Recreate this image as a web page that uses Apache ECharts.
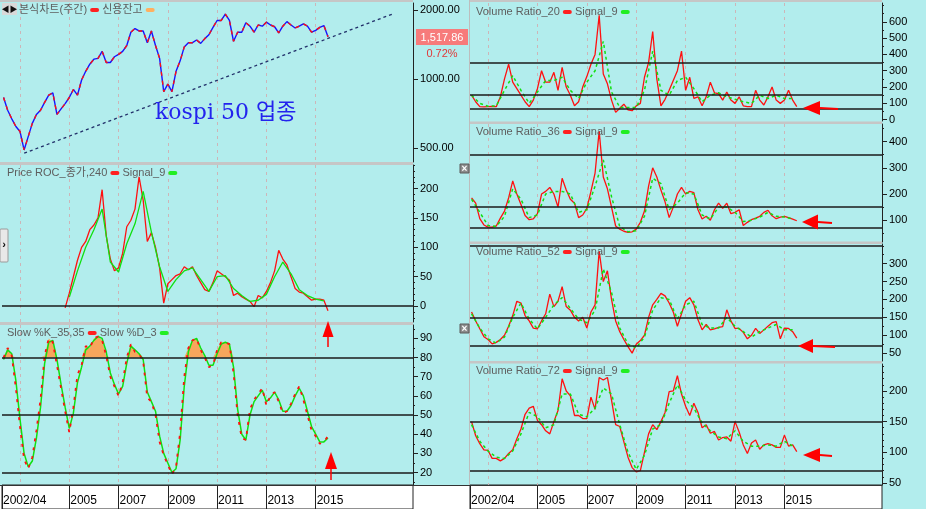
<!DOCTYPE html>
<html><head><meta charset="utf-8">
<script src="https://cdn.jsdelivr.net/npm/echarts@6/dist/echarts.min.js"></script>
<style>html,body{margin:0;padding:0;background:#b2eded;}#c{width:926px;height:509px;}</style>
</head><body><div id="c"></div>
<script>
const START = 2002 + 4 / 12;   // first sample
const STEP = 1 / 6;            // two months
const xTickLabels = ['2002/04', '2005', '2007', '2009', '2011', '2013', '2015'];
const xLabelYears = [2002.27, 2005, 2007, 2009, 2011, 2013, 2015];
const gridYears = [2003, 2005, 2007, 2009, 2011, 2013, 2015];

const price = [830,730,670,620,590,490,560,640,700,730,
  790,850,870,700,740,780,830,900,850,990,
  1080,1160,1220,1230,1320,1180,1180,1250,1280,1320,
  1400,1600,1660,1620,1620,1440,1620,1400,1230,880,
  950,880,1080,1200,1380,1440,1440,1480,1430,1500,
  1560,1680,1800,1800,1920,1800,1460,1600,1600,1760,
  1700,1600,1720,1700,1770,1720,1690,1590,1700,1780,
  1720,1670,1700,1740,1700,1600,1630,1680,1710,1530];
const trendLine = [[2003.17, 474], [2018.12, 1921]];
const lastPrice = '1,517.86';
const lastChange = '0.72%';
const priceTicks = [500, 1000, 2000];

const roc = [null,null,null,null,null,null,null,null,null,null,
  null,null,null,null,null,-3,22,50,78,100,
  110,130,138,150,198,120,80,60,65,90,
  135,146,165,220,180,110,125,100,65,5,
  38,45,52,55,67,62,67,52,40,28,
  25,40,60,55,50,44,18,22,16,12,
  8,-1,18,14,25,40,60,95,80,70,
  50,30,24,22,16,10,12,12,10,-8];
const rocSignal = [null,null,null,null,null,null,null,null,15,60,
  100,130,165,75,58,106,140,195,126,67,
  25,45,60,65,45,25,50,52,30,18,
  8,10,20,50,75,55,28,18,12,9];
const rocTicks = [0, 50, 100, 150, 200];
const rocLevels = [0];

const slowK = [80,85,81,64,44,27,22,28,42,58,
  81,90,88,76,64,52,41,54,71,76,
  86,85,90,91,89,81,70,65,60,67,
  80,87,83,82,78,59,57,50,36,29,
  24,19,23,41,70,85,89,90,84,80,
  75,76,84,88,88,87,72,50,38,37,
  53,58,61,64,55,60,62,57,51,52,
  56,61,65,58,50,42,39,35,36,39];
const slowD = [79,84,82,68,48,30,23,26,38,54,
  77,88,89,79,66,54,43,51,67,75,
  84,86,89,91,90,83,72,66,61,65,
  77,86,84,82,79,62,57,52,39,30,
  25,20,22,37,65,83,89,90,85,81,
  76,76,82,87,88,87,75,53,40,37,
  50,57,60,63,57,59,62,58,52,52,
  55,60,64,60,52,44,40,36,36,38];
const stochTicks = [20, 30, 40, 50, 60, 70, 80, 90];
const stochLevels = [80, 50, 20];

const vr20 = [150,110,80,78,80,82,80,140,250,340,
  230,190,150,110,80,120,190,300,230,230,
  290,180,320,200,150,85,110,200,264,340,
  400,640,280,220,120,45,70,95,60,55,
  85,100,260,350,540,250,85,125,180,240,
  300,420,180,260,130,140,85,140,230,165,
  160,120,170,120,100,140,85,80,80,180,
  120,90,140,200,120,100,120,180,120,80];
const vr20Signal = [150,100,82,85,180,270,180,100,170,240,
  240,260,180,130,230,300,480,170,75,75,
  75,180,420,180,150,240,260,190,110,150,
  165,140,125,110,100,150,130,150,130,130];

const vr36 = [185,165,106,82,74,74,78,108,135,185,
  250,200,160,118,102,105,125,200,210,225,
  200,150,260,215,180,165,110,120,145,210,
  280,440,265,220,150,78,66,58,54,56,
  66,92,135,230,300,265,215,170,110,150,
  200,225,200,210,205,140,105,115,100,140,
  165,145,165,125,130,140,80,92,102,108,
  115,130,138,117,106,112,115,110,104,98];
const vr36Signal = [180,130,80,76,115,220,180,110,120,200,
  210,210,200,130,140,230,330,190,75,56,
  60,115,260,240,140,165,205,200,120,105,
  150,150,130,95,100,112,130,115,112,105];

const vr52 = [165,140,118,96,88,76,80,88,100,125,
  155,195,190,155,140,120,118,140,160,215,
  180,195,236,180,170,150,140,150,120,165,
  185,335,250,280,200,140,110,88,68,50,
  75,85,100,150,185,200,217,210,190,165,
  125,160,195,205,185,143,115,130,115,118,
  122,124,171,140,119,119,108,90,100,119,
  105,115,125,135,138,90,120,119,110,92];
const vr52Signal = [160,120,90,78,95,150,190,145,118,150,
  185,205,175,145,135,170,285,220,120,75,
  65,95,170,205,200,145,185,195,130,120,
  120,150,125,110,95,110,120,130,115,115];

const vr72 = [150,127,114,104,103,90,90,86,90,98,
  104,122,138,162,172,175,152,145,135,130,
  150,168,220,200,192,160,160,155,155,190,
  170,222,218,222,185,145,142,117,92,75,
  68,70,100,130,145,137,150,165,199,200,
  225,195,175,160,180,165,140,145,131,134,
  120,124,125,118,150,133,112,98,115,120,
  105,112,114,112,108,108,128,110,112,101];
const vr72Signal = [145,118,102,92,90,102,130,165,158,140,
  145,195,195,162,158,172,205,195,145,100,
  72,95,138,145,180,210,185,172,148,135,
  125,122,135,118,110,110,112,110,118,110];

const vr20Ticks = [0, 100, 200, 300, 400, 500, 600];
const vr36Ticks = [100, 200, 300, 400];
const vr52Ticks = [50, 100, 150, 200, 250, 300];
const vr72Ticks = [50, 100, 150, 200];
const vrLevels = [350, 150, 70];

// ---------------- chart ----------------
const FONT = "'Liberation Sans', 'Noto Sans CJK KR', sans-serif";
const X_MIN = 2002.27, X_MAX = 2018.95;
const dates = price.map((_, i) => START + i * STEP);
const sigDates = dates.filter((_, i) => i % 2 === 0);
const pair = (vals, xs) => vals.map((v, i) => [xs[i], v]);

const grids = [
  {left: 2, top: 3, width: 411, height: 159},
  {left: 2, top: 165, width: 411, height: 157},
  {left: 2, top: 325, width: 411, height: 160},
  {left: 470, top: 3, width: 412, height: 118},
  {left: 470, top: 124, width: 412, height: 118},
  {left: 470, top: 244, width: 412, height: 117},
  {left: 470, top: 364, width: 412, height: 121},
  {left: 2, top: 485, width: 411, height: 24},
  {left: 470, top: 485, width: 412, height: 24}
].map((g, i) => Object.assign({containLabel: false, outerBoundsMode: 'none', show: i >= 7,
  backgroundColor: '#ffffff', borderColor: '#222', borderWidth: 1}, g));

const xAxes = grids.map((g, i) => {
  if (i < 7) return {gridIndex: i, type: 'value', min: X_MIN, max: X_MAX,
    axisLine: {show: false}, axisLabel: {show: false},
    axisTick: {show: false, customValues: gridYears},
    splitLine: {show: true, lineStyle: {color: '#cdb5b8', type: [3, 4], width: 1}}};
  return {gridIndex: i, type: 'value', min: X_MIN, max: X_MAX, position: 'bottom',
    axisLine: {show: false},
    axisTick: {show: false, customValues: xLabelYears},
    splitLine: {show: true, lineStyle: {color: '#222', width: 1}},
    axisLabel: {show: true, customValues: xLabelYears, inside: true, align: 'left', margin: 2,
      padding: [0, 0, 0, 1], color: '#000', fontSize: 12, fontFamily: FONT,
      formatter: v => { const k = xLabelYears.findIndex(y => Math.abs(y - v) < 1e-6); return k >= 0 ? xTickLabels[k] : ''; }}};
});

function minorList(min, max, step) {
  const out = [];
  for (let v = Math.ceil(min / step) * step; v <= max; v += step) out.push(v);
  return out;
}
function yPair(g, min, max, major, minorStep, fmt) {
  return [
    {gridIndex: g, type: 'value', position: 'right', min, max,
      axisLine: {show: true, onZero: false, lineStyle: {color: '#222', width: 1}},
      axisTick: {show: true, length: 2, customValues: minorList(min, max, minorStep), lineStyle: {color: '#222'}},
      axisLabel: {show: false}, splitLine: {show: false}},
    {gridIndex: g, type: 'value', position: 'right', min, max,
      axisLine: {show: false},
      axisTick: {show: true, length: 5, customValues: major, lineStyle: {color: '#222'}},
      axisLabel: {show: true, customValues: major, margin: 7, color: '#000', fontSize: 11, fontFamily: FONT,
        formatter: fmt || (v => String(Math.round(v)))},
      splitLine: {show: false}}
  ];
}
const P_MIN = 434, P_MAX = 2146;
const yAxes = [
  {gridIndex: 0, type: 'log', position: 'right', min: P_MIN, max: P_MAX,
    axisLine: {show: true, onZero: false, lineStyle: {color: '#222', width: 1}},
    axisTick: {show: false}, axisLabel: {show: false}, splitLine: {show: false}, minorTick: {show: false}},
  {gridIndex: 0, type: 'value', position: 'right', min: Math.log10(P_MIN), max: Math.log10(P_MAX),
    axisLine: {show: false},
    axisTick: {show: true, length: 5, customValues: priceTicks.map(Math.log10), lineStyle: {color: '#222'}},
    axisLabel: {show: true, customValues: priceTicks.map(Math.log10), margin: 7, color: '#000', fontSize: 11, fontFamily: FONT,
      formatter: v => Math.pow(10, v).toFixed(2)},
    splitLine: {show: false}},
  ...yPair(1, -27, 240, rocTicks, 10),
  ...yPair(2, 13.5, 97, stochTicks, 5),
  ...yPair(3, -8, 715, vr20Ticks, 50),
  ...yPair(4, 17, 467, vr36Ticks, 50),
  ...yPair(5, 28, 355, vr52Ticks, 25),
  ...yPair(6, 46.6, 244, vr72Ticks, 10),
  {gridIndex: 7, type: 'value', show: false, min: 0, max: 1},
  {gridIndex: 8, type: 'value', show: false, min: 0, max: 1}
];

const base = {type: 'line', symbol: 'none', showSymbol: false, silent: true, animation: false};
const levelLines = levels => ({silent: true, symbol: 'none', label: {show: false}, animation: false,
  lineStyle: {color: '#1a1a1a', width: 1.5, type: 'solid'}, data: levels.map(v => ({yAxis: v}))});
const RED = '#ff1010', GREEN = '#10e010';

const series = [
  Object.assign({}, base, {name: 'price', xAxisIndex: 0, yAxisIndex: 0, data: pair(price, dates),
    lineStyle: {color: '#1414ff', width: 1.4}}),
  Object.assign({}, base, {name: 'priceUp', xAxisIndex: 0, yAxisIndex: 0, data: pair(price, dates),
    lineStyle: {color: RED, width: 1.4, type: [4, 5]}}),
  Object.assign({}, base, {name: 'trend', xAxisIndex: 0, yAxisIndex: 0, data: trendLine,
    lineStyle: {color: '#22306a', width: 1.3, type: [3, 3]}}),

  Object.assign({}, base, {name: 'roc', xAxisIndex: 1, yAxisIndex: 2, data: pair(roc, dates),
    lineStyle: {color: RED, width: 1.3}, markLine: levelLines(rocLevels)}),
  Object.assign({}, base, {name: 'rocSig', xAxisIndex: 1, yAxisIndex: 2, data: pair(rocSignal, sigDates),
    lineStyle: {color: GREEN, width: 1.3}}),

  Object.assign({}, base, {name: 'fill', xAxisIndex: 2, yAxisIndex: 4, data: pair(slowK.map(v => Math.max(v, 80)), dates),
    lineStyle: {width: 0}, areaStyle: {color: '#f7a65c', opacity: 1, origin: 80}, z: 1}),
  Object.assign({}, base, {name: 'slowD', xAxisIndex: 2, yAxisIndex: 4, data: pair(slowD, dates),
    lineStyle: {color: GREEN, width: 1.5}, markLine: levelLines(stochLevels)}),
  Object.assign({}, base, {name: 'slowK', xAxisIndex: 2, yAxisIndex: 4, data: pair(slowK, dates),
    lineStyle: {color: RED, width: 1.8, type: [3, 6]}})
];
[[vr20, vr20Signal], [vr36, vr36Signal], [vr52, vr52Signal], [vr72, vr72Signal]].forEach((pr, k) => {
  const g = 3 + k;
  series.push(Object.assign({}, base, {xAxisIndex: g, yAxisIndex: 2 * g, data: pair(pr[0], dates),
    lineStyle: {color: RED, width: 1.3}, markLine: levelLines(vrLevels)}));
  series.push(Object.assign({}, base, {xAxisIndex: g, yAxisIndex: 2 * g, data: pair(pr[1], sigDates),
    lineStyle: {color: GREEN, width: 1.5, type: [3, 3]}}));
});

// ---- graphic annotations ----
function legend(x, y, parts) {
  const rich = {};
  let text = '';
  parts.forEach((p, i) => {
    rich['m' + i] = {width: 9, height: 4, backgroundColor: p[1], borderRadius: 2};
    text += (i ? ' ' : '') + p[0] + ' {m' + i + '| }';
  });
  return {type: 'text', x, y, z: 50, style: {text, fill: '#5e5e5e', font: '11px ' + FONT, rich, textVerticalAlign: 'middle'}};
}
function arrowLeft(tx, ty, bx, half, tail) {
  return [
    {type: 'polygon', z: 60, shape: {points: [[tx, ty], [bx, ty - half], [bx, ty + half]]}, style: {fill: '#ff0000'}},
    {type: 'line', z: 60, shape: {x1: bx, y1: ty, x2: tail, y2: ty + 1}, style: {stroke: '#ff0000', lineWidth: 2}}
  ];
}
function arrowUp(tx, ty, by, half, tail) {
  return [
    {type: 'polygon', z: 60, shape: {points: [[tx, ty], [tx - half, by], [tx + half, by]]}, style: {fill: '#ff0000'}},
    {type: 'line', z: 60, shape: {x1: tx, y1: by, x2: tx, y2: tail}, style: {stroke: '#ff0000', lineWidth: 1.5}}
  ];
}
function xIcon(x, y) {
  return [
    {type: 'rect', z: 60, shape: {x, y, width: 9, height: 9}, style: {fill: '#8c8c8c', stroke: '#5a5a5a', lineWidth: 1}},
    {type: 'text', z: 61, x: x + 4.5, y: y + 5, style: {text: '×', fill: '#fff', font: 'bold 10px ' + FONT, textAlign: 'center', textVerticalAlign: 'middle'}}
  ];
}
const bar = (x, y, w, h) => ({type: 'rect', z: 40, shape: {x, y, width: w, height: h}, style: {fill: '#c6c6c6'}});

const graphic = [
  {type: 'rect', z: -10, shape: {x: 0, y: 485, width: 882, height: 24}, style: {fill: '#ffffff'}},
  {type: 'line', z: 40, shape: {x1: 0, y1: 485.5, x2: 882, y2: 485.5}, style: {stroke: '#333', lineWidth: 1}},
  bar(0, 0, 413, 2), bar(0, 162, 413, 3), bar(0, 322, 413, 3),
  bar(470, 0, 412, 2), bar(470, 121.5, 412, 2.5), bar(470, 241.5, 412, 2.5), bar(470, 361, 412, 2.5),
  {type: 'line', z: 40, shape: {x1: 469.5, y1: 0, x2: 469.5, y2: 485}, style: {stroke: '#bdbdbd', lineWidth: 1}},
  {type: 'rect', z: 50, shape: {x: 2, y: 3, width: 15, height: 12}, style: {fill: '#d9d9d9'}},
  {type: 'text', z: 51, x: 9.5, y: 9.5, style: {text: '◀▶', fill: '#111', font: '8px ' + FONT, textAlign: 'center', textVerticalAlign: 'middle'}},
  legend(19, 10, [['본식차트(주간)', '#ff2020'], ['신용잔고', '#ffb060']]),
  legend(7, 173, [['Price ROC_종가,240', '#ff2020'], ['Signal_9', '#22ee22']]),
  legend(7, 333, [['Slow %K_35,35', '#ff2020'], ['Slow %D_3', '#22ee22']]),
  legend(476, 12, [['Volume Ratio_20', '#ff2020'], ['Signal_9', '#22ee22']]),
  legend(476, 132, [['Volume Ratio_36', '#ff2020'], ['Signal_9', '#22ee22']]),
  legend(476, 252, [['Volume Ratio_52', '#ff2020'], ['Signal_9', '#22ee22']]),
  legend(476, 371, [['Volume Ratio_72', '#ff2020'], ['Signal_9', '#22ee22']]),
  {type: 'text', z: 55, x: 155, y: 113, style: {text: 'kospi 50 업종', fill: '#2323ee',
    font: "22px 'DejaVu Serif', 'Noto Sans CJK KR', serif", textVerticalAlign: 'middle'}},
  {type: 'rect', z: 55, shape: {x: 416, y: 29, width: 52, height: 16}, style: {fill: '#f77b7b'}},
  {type: 'text', z: 56, x: 442, y: 37.5, style: {text: lastPrice, fill: '#ffffff', font: '11px ' + FONT, textAlign: 'center', textVerticalAlign: 'middle'}},
  {type: 'text', z: 56, x: 442, y: 54, style: {text: lastChange, fill: '#e03838', font: '11px ' + FONT, textAlign: 'center', textVerticalAlign: 'middle'}},
  {type: 'rect', z: 55, shape: {x: 0, y: 229, width: 8, height: 33, r: 1}, style: {fill: '#e8e8e8', stroke: '#9a9a9a', lineWidth: 1}},
  {type: 'text', z: 56, x: 4, y: 245, style: {text: '›', fill: '#111', font: 'bold 11px ' + FONT, textAlign: 'center', textVerticalAlign: 'middle'}},
  ...xIcon(460, 164), ...xIcon(460, 324),
  ...arrowUp(328, 321, 337, 5.5, 347),
  ...arrowUp(331, 452, 469, 6, 480),
  ...arrowLeft(803, 108, 820, 7, 838),
  ...arrowLeft(802, 222, 818, 7.5, 832),
  ...arrowLeft(798, 346, 813, 7, 835),
  ...arrowLeft(803, 455, 820, 7, 832)
];

const chart = echarts.init(document.getElementById('c'), null, {renderer: 'canvas'});
chart.setOption({
  backgroundColor: '#b2eded',
  animation: false,
  grid: grids,
  xAxis: xAxes,
  yAxis: yAxes,
  series,
  graphic
});
</script></body></html>
